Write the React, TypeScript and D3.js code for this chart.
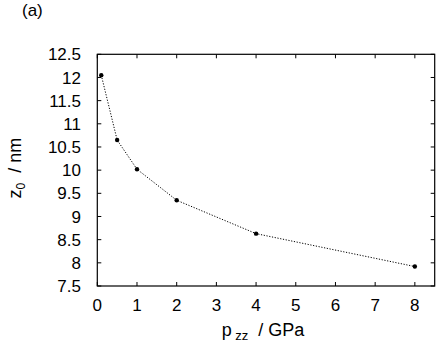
import React from 'react';
import * as d3 from 'd3';

// pressure p_zz (GPa) vs z0 (nm)
const pressure = [0.1, 0.5, 1, 2, 4, 8];
const z0 = [12.05, 10.65, 10.02, 9.35, 8.63, 7.92];
const xTicks = [0, 1, 2, 3, 4, 5, 6, 7, 8];
const yTicks = [7.5, 8, 8.5, 9, 9.5, 10, 10.5, 11, 11.5, 12, 12.5];

const W = 436;
const H = 346;
const left = 97.3;
const right = 434.7;
const top = 54.3;
const bottom = 286;
const font = '"Liberation Sans", Arial, sans-serif';

export default function App() {
  const x = d3.scaleLinear().domain([0, 8.5]).range([left, right]);
  const y = d3.scaleLinear().domain([7.5, 12.5]).range([bottom, top]);
  const line = d3.line<number>()
    .x((d, i) => x(pressure[i]))
    .y((d) => y(d));
  const tk = 4;

  return (
    <svg width={W} height={H} style={{ position: 'absolute', left: 0, top: 0 }}>
      <rect width={W} height={H} fill="#fff" />
      <text x={22} y={16} fontFamily={font} fontSize={17}>(a)</text>

      {/* ticks, mirrored on all sides */}
      {xTicks.map((t) => (
        <g key={'x' + t}>
          <line x1={x(t)} x2={x(t)} y1={bottom} y2={bottom - tk} stroke="#000" />
          <line x1={x(t)} x2={x(t)} y1={top} y2={top + tk} stroke="#000" />
          <text x={x(t)} y={bottom + 24.5} textAnchor="middle" fontFamily={font} fontSize={17}>{t}</text>
        </g>
      ))}
      {yTicks.map((t) => (
        <g key={'y' + t}>
          <line x1={left} x2={left + tk} y1={y(t)} y2={y(t)} stroke="#000" />
          <line x1={right} x2={right - tk} y1={y(t)} y2={y(t)} stroke="#000" />
          <text x={81} y={y(t)} dy="0.36em" textAnchor="end" fontFamily={font} fontSize={17}>{t}</text>
        </g>
      ))}

      <rect x={left} y={top} width={right - left} height={bottom - top} fill="none" stroke="#000" strokeWidth={1.2} />

      <path d={line(z0) || ''} fill="none" stroke="#000" strokeWidth={1} strokeDasharray="1.2,1.6" />
      {z0.map((d, i) => (
        <circle key={i} cx={x(pressure[i])} cy={y(d)} r={2.2} fill="#000" />
      ))}

      {/* axis labels */}
      <text transform={`translate(21,${(top + bottom) / 2 - 2}) rotate(-90)`} textAnchor="middle" fontFamily={font} fontSize={18} style={{ whiteSpace: 'pre' }}>
        z<tspan fontSize={12} dy={4}>0</tspan><tspan dy={-4}>{'  / nm'}</tspan>
      </text>
      <text x={(left + right) / 2 - 3} y={336} textAnchor="middle" fontFamily={font} fontSize={18} style={{ whiteSpace: 'pre' }}>
        p<tspan fontSize={13} dy={4}>{' zz'}</tspan><tspan dy={-4}>{'  / GPa'}</tspan>
      </text>
    </svg>
  );
}
